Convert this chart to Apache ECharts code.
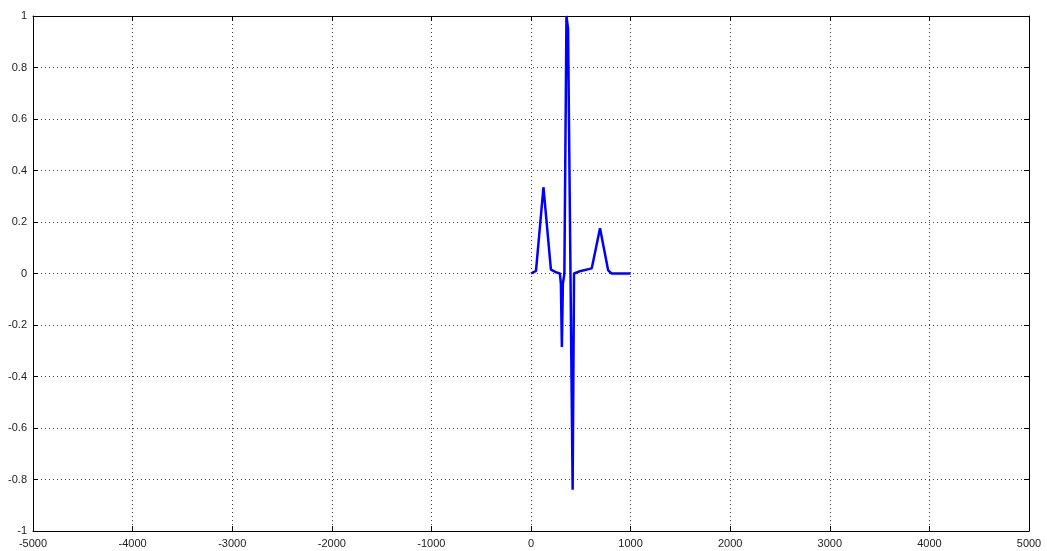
<!DOCTYPE html>
<html>
<head>
<meta charset="utf-8">
<script src="https://cdn.jsdelivr.net/npm/echarts@6/dist/echarts.min.js"></script>
<style>
  html, body { margin: 0; padding: 0; background: #fff; }
  #chart { width: 1047px; height: 551px; }
</style>
</head>
<body>
<div id="chart"></div>
<script>
// Signal samples: time index and amplitude
const sampleX = [0, 50, 125, 200, 250, 290, 300, 310, 320, 335, 356, 372, 418, 432, 440, 500, 610, 693, 775, 810, 1000];
const sampleY = [0, 0.01, 0.335, 0.015, 0.005, 0, -0.04, -0.285, -0.04, 0, 1.0, 0.95, -0.84, 0, 0.005, 0.01, 0.02, 0.176, 0.012, 0, 0];

// Axis ranges and tick steps
const xRange = [-5000, 5000];
const xStep = 1000;
const yRange = [-1, 1];
const yStep = 0.2;

const points = sampleX.map((x, i) => [x, sampleY[i]]);

const font = { fontFamily: 'Liberation Sans, Arial, sans-serif', fontSize: 11, color: '#222' };
const gridDots = { show: true, lineStyle: { color: '#444', width: 1, type: [1, 3] } };
const axisLine = { show: true, onZero: false, lineStyle: { color: '#000', width: 1 } };
const tickIn = { show: true, inside: true, length: 5, lineStyle: { color: '#000' } };

const chart = echarts.init(document.getElementById('chart'));
chart.setOption({
  animation: false,
  backgroundColor: '#fff',
  grid: { left: 33, right: 18, top: 16, bottom: 20, show: false },
  xAxis: [
    {
      type: 'value', min: xRange[0], max: xRange[1], interval: xStep,
      axisLine: axisLine, axisTick: tickIn, splitLine: gridDots,
      axisLabel: Object.assign({ margin: 7, formatter: v => String(Math.round(v)) }, font)
    },
    {
      type: 'value', position: 'top', min: xRange[0], max: xRange[1], interval: xStep,
      axisLine: axisLine, axisTick: tickIn, splitLine: { show: false },
      axisLabel: { show: false }
    }
  ],
  yAxis: [
    {
      type: 'value', min: yRange[0], max: yRange[1], interval: yStep,
      axisLine: axisLine, axisTick: tickIn, splitLine: gridDots,
      axisLabel: Object.assign({ margin: 6, formatter: v => String(Math.round(v * 10) / 10) }, font)
    },
    {
      type: 'value', position: 'right', min: yRange[0], max: yRange[1], interval: yStep,
      axisLine: axisLine, axisTick: tickIn, splitLine: { show: false },
      axisLabel: { show: false }
    }
  ],
  series: [{
    type: 'line',
    data: points,
    xAxisIndex: 0,
    yAxisIndex: 0,
    showSymbol: false,
    lineStyle: { color: '#0000ff', width: 2.5 },
    itemStyle: { color: '#0000ff' }
  }]
});
</script>
</body>
</html>
